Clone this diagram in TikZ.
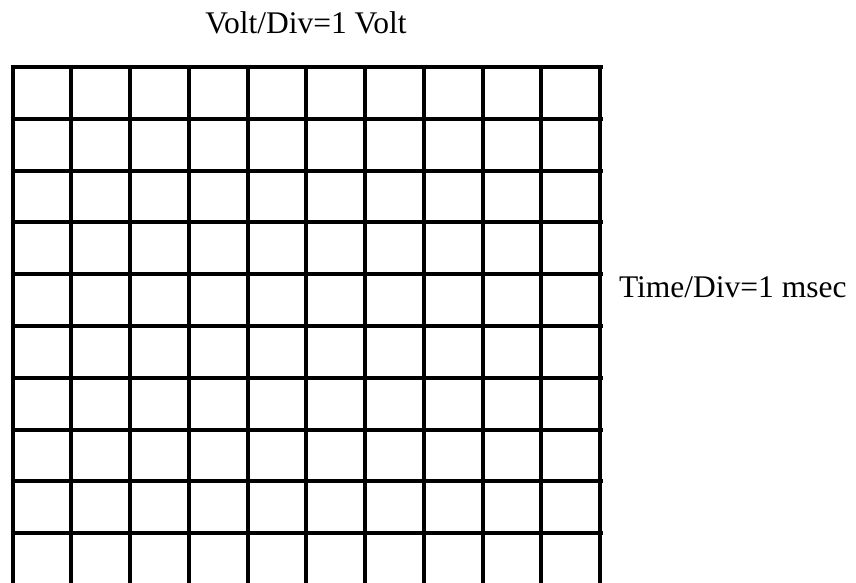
\documentclass[tikz,border=0pt]{standalone}
\usepackage{fontspec}
\setmainfont{Liberation Serif}
\usetikzlibrary{positioning}

\begin{document}
\begin{tikzpicture}[x=1pt,y=-1pt,line width=4pt]
\useasboundingbox (0,0) rectangle (856,583);
% Vertical lines of the screen grid
\foreach \i in {0,...,10} {
    \draw (12.5+58.75*\i,65) -- (12.5+58.75*\i,583);
}
% Horizontal lines (the last row runs off the bottom)
\foreach \j in {0,...,9} {
    \draw (10.5,67+51.8*\j) -- (602.5,67+51.8*\j);
}
% Scale labels
\node[anchor=base,inner sep=0pt,font=\fontsize{31.5}{36}\selectfont] (voltdiv) at (306,34) {Volt/Div=1 Volt};
\node[anchor=base west,inner sep=0pt,font=\fontsize{31.5}{36}\selectfont] (timediv) at (617,297) {Time/Div=1 msec};
\end{tikzpicture}
\end{document}
